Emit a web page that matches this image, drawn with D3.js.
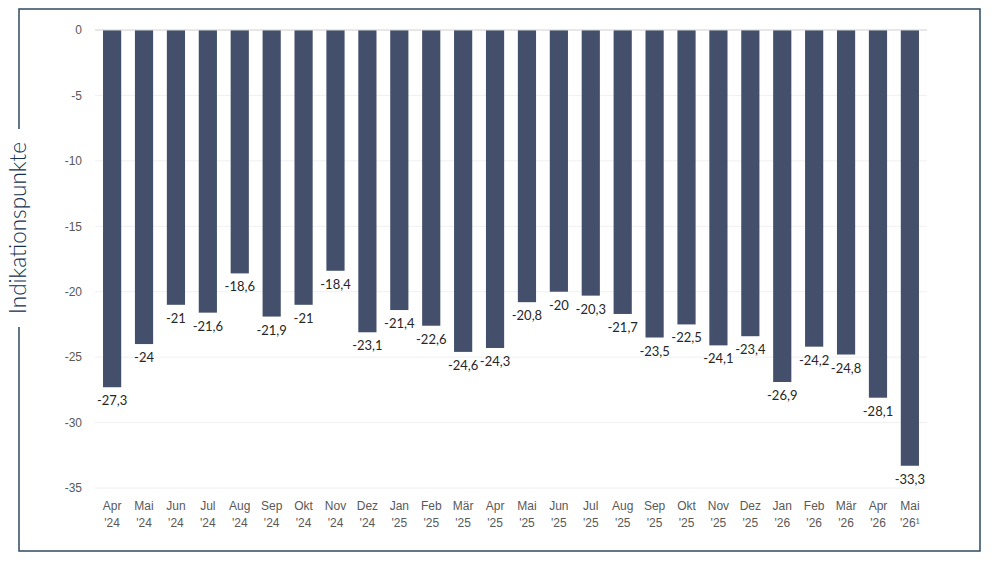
<!DOCTYPE html>
<html>
<head>
<meta charset="utf-8">
<script src="https://cdn.jsdelivr.net/npm/d3@7"></script>
<style>
  body { margin: 0; background: #fff; }
  svg { display: block; font-family: "Lato", "Open Sans", sans-serif; }
  .grid line { stroke: #f0f0f0; }
  .axisY text { fill: #595959; font-size: 12px; }
  .axisX text { fill: #595959; font-size: 12px; }
  .val { fill: #262626; font-size: 13px; }
</style>
</head>
<body>
<div id="chart"></div>
<script>
'use strict';

// Monate (erste Zeile), Jahr (zweite Zeile)
const months = ['Apr', 'Mai', 'Jun', 'Jul', 'Aug', 'Sep', 'Okt', 'Nov', 'Dez',
  'Jan', 'Feb', 'Mär', 'Apr', 'Mai', 'Jun', 'Jul', 'Aug', 'Sep', 'Okt', 'Nov', 'Dez',
  'Jan', 'Feb', 'Mär', 'Apr', 'Mai'];
const years = ["'24", "'24", "'24", "'24", "'24", "'24", "'24", "'24", "'24",
  "'25", "'25", "'25", "'25", "'25", "'25", "'25", "'25", "'25", "'25", "'25", "'25",
  "'26", "'26", "'26", "'26", "'26¹"];
const values = [-27.3, -24, -21, -21.6, -18.6, -21.9, -21, -18.4, -23.1,
  -21.4, -22.6, -24.6, -24.3, -20.8, -20, -20.3, -21.7, -23.5, -22.5, -24.1, -23.4,
  -26.9, -24.2, -24.8, -28.1, -33.3];
const yTicks = [0, -5, -10, -15, -20, -25, -30, -35];

function drawChart(elementID) {
  const width = 1000;
  const height = 562;
  const data = values.map((v, i) => ({ i: i, m: months[i], y: years[i], v: v }));

  const svg = d3.select('#' + elementID)
    .append('svg')
    .attr('width', width)
    .attr('height', height);

  // rahmen
  const frameColor = '#2f4a63';
  const fx0 = 19, fx1 = 980, fy0 = 9, fy1 = 551;
  svg.append('path')
    .attr('d', `M${fx0},129 V${fy0} H${fx1} V${fy1} H${fx0} V327`)
    .attr('fill', 'none')
    .attr('stroke', frameColor)
    .attr('stroke-width', 1.5);

  const scaleX = d3.scaleBand()
    .domain(data.map(d => d.i))
    .range([96, 926])
    .paddingInner(0.43)
    .paddingOuter(0.22);

  const scaleY = d3.scaleLinear()
    .domain([0, -35])
    .range([30, 488]);

  // gitterlinien
  svg.append('g')
    .attr('class', 'grid')
    .selectAll('line')
    .data(yTicks.filter(t => t !== 0))
    .enter()
    .append('line')
    .attr('x1', 95)
    .attr('x2', 927)
    .attr('y1', d => scaleY(d))
    .attr('y2', d => scaleY(d));

  // balken
  svg.append('g')
    .selectAll('rect')
    .data(data)
    .enter()
    .append('rect')
    .attr('x', d => scaleX(d.i))
    .attr('width', scaleX.bandwidth())
    .attr('y', scaleY(0))
    .attr('height', d => scaleY(d.v) - scaleY(0))
    .attr('fill', '#44506b');

  // nulllinie
  svg.append('line')
    .attr('x1', 95)
    .attr('x2', 927)
    .attr('y1', scaleY(0))
    .attr('y2', scaleY(0))
    .attr('stroke', '#d0d0d0')
    .attr('stroke-width', 1);

  // werte
  svg.append('g')
    .selectAll('text')
    .data(data)
    .enter()
    .append('text')
    .attr('class', 'val')
    .attr('x', d => scaleX(d.i) + scaleX.bandwidth() / 2)
    .attr('y', d => scaleY(d.v) + 18)
    .attr('text-anchor', 'middle')
    .text(d => String(d.v).replace('.', ','));

  // eje Y
  const yAxis = d3.axisLeft(scaleY)
    .tickValues(yTicks)
    .tickSize(0)
    .tickPadding(0)
    .tickFormat(d => String(d));
  svg.append('g')
    .attr('class', 'axisY')
    .attr('transform', 'translate(82, 0)')
    .call(yAxis)
    .call(g => g.select('.domain').remove());

  // eje X (zwei zeilen)
  const xAxis = d3.axisBottom(scaleX)
    .tickSize(0)
    .tickPadding(0)
    .tickFormat(() => '');
  const gx = svg.append('g')
    .attr('class', 'axisX')
    .attr('transform', 'translate(0, 493)')
    .call(xAxis)
    .call(g => g.select('.domain').remove());
  gx.selectAll('.tick text').remove();
  gx.selectAll('.tick').each(function (i) {
    const t = d3.select(this).append('text')
      .attr('text-anchor', 'middle')
      .attr('fill', '#595959');
    t.append('tspan').attr('x', 0).attr('y', 17).text(months[i]);
    t.append('tspan').attr('x', 0).attr('y', 34).text(years[i]);
  });

  // achsentitel
  svg.append('text')
    .attr('transform', 'translate(26, 228) rotate(-90)')
    .attr('text-anchor', 'middle')
    .attr('fill', '#14304f')
    .attr('font-size', 22.5)
    .attr('font-weight', 300)
    .text('Indikationspunkte');
}

drawChart('chart');
</script>
</body>
</html>
